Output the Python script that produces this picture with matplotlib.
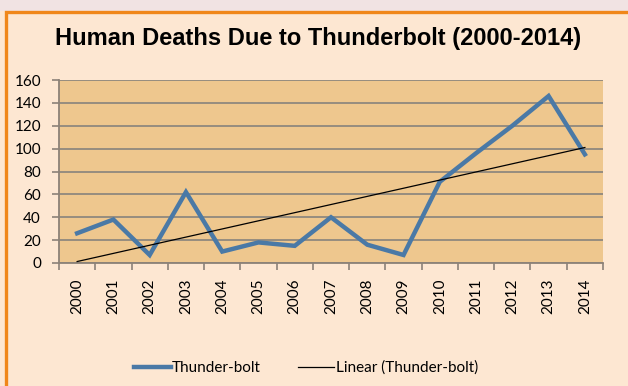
import matplotlib
matplotlib.use("Agg")
import matplotlib.pyplot as plt
from matplotlib.patches import Rectangle
import numpy as np

years = ["2000", "2001", "2002", "2003", "2004", "2005", "2006", "2007",
         "2008", "2009", "2010", "2011", "2012", "2013", "2014"]
deaths = [26, 38, 7, 62, 10, 18, 15, 40, 16, 7, 71, 96, 120, 146, 95]
y_ticks = [0, 20, 40, 60, 80, 100, 120, 140, 160]

W, H = 628, 386
fig = plt.figure(figsize=(W / 100, H / 100), dpi=100)
fig.patch.set_facecolor("#FDE7D2")

# strip above the frame and orange frame
fig.add_artist(Rectangle((0, 1 - 11 / H), 1, 11 / H, transform=fig.transFigure,
                         facecolor="#F1E3E3", edgecolor="none", zorder=0))
fig.add_artist(Rectangle((5.5 / W, -0.05), 1.2, 1 - 12 / H + 0.05,
                         transform=fig.transFigure, facecolor="none",
                         edgecolor="#F0871A", linewidth=2.4, zorder=1))

ax = fig.add_axes([59 / W, 1 - 263 / H, (603 - 59) / W, (263 - 80) / H])
ax.set_facecolor("#EEC78E")

x = np.arange(len(years))
ax.plot(x, deaths, color="#4A79A6", linewidth=3.2, solid_joinstyle="miter",
        label="Thunder-bolt", zorder=3)
coef = np.polyfit(x, deaths, 1)
ax.plot(x, np.polyval(coef, x), color="black", linewidth=0.9,
        label="Linear (Thunder-bolt)", zorder=4)

ax.set_xlim(-0.5, len(years) - 0.5)
ax.set_ylim(0, 160)
ax.set_yticks(y_ticks)
ax.set_yticklabels([str(v) for v in y_ticks], fontsize=11, family="Lato")
ax.set_xticks(x)
ax.set_xticklabels(years, rotation=90, fontsize=11, family="Lato")
ax.set_xticks(np.arange(len(years) + 1) - 0.5, minor=True)
ax.tick_params(axis="x", which="major", length=0, pad=11)
ax.tick_params(axis="x", which="minor", length=5, width=1.2, color="#8C8278")
ax.tick_params(axis="y", length=5, width=1.2, color="#8C8278", pad=8)
ax.yaxis.grid(True, color="#8F887E", linewidth=1.3)
ax.set_axisbelow(True)
for s in ["top", "right"]:
    ax.spines[s].set_visible(False)
for s in ["left", "bottom"]:
    ax.spines[s].set_color("#8C8278")
    ax.spines[s].set_linewidth(1.3)

fig.text(318 / W, 1 - 39 / H, "Human Deaths Due to Thunderbolt (2000-2014)",
         ha="center", va="center", fontsize=17, fontweight="bold",
         family="Liberation Sans", color="black")

leg = fig.legend(loc="center", bbox_to_anchor=(306 / W, 1 - 368 / H), ncol=2,
                 frameon=False, prop={"family": "Lato", "size": 11},
                 handlelength=2.4, columnspacing=2.4, handletextpad=0.1)

fig.savefig("out.png", dpi=100, facecolor=fig.get_facecolor())
